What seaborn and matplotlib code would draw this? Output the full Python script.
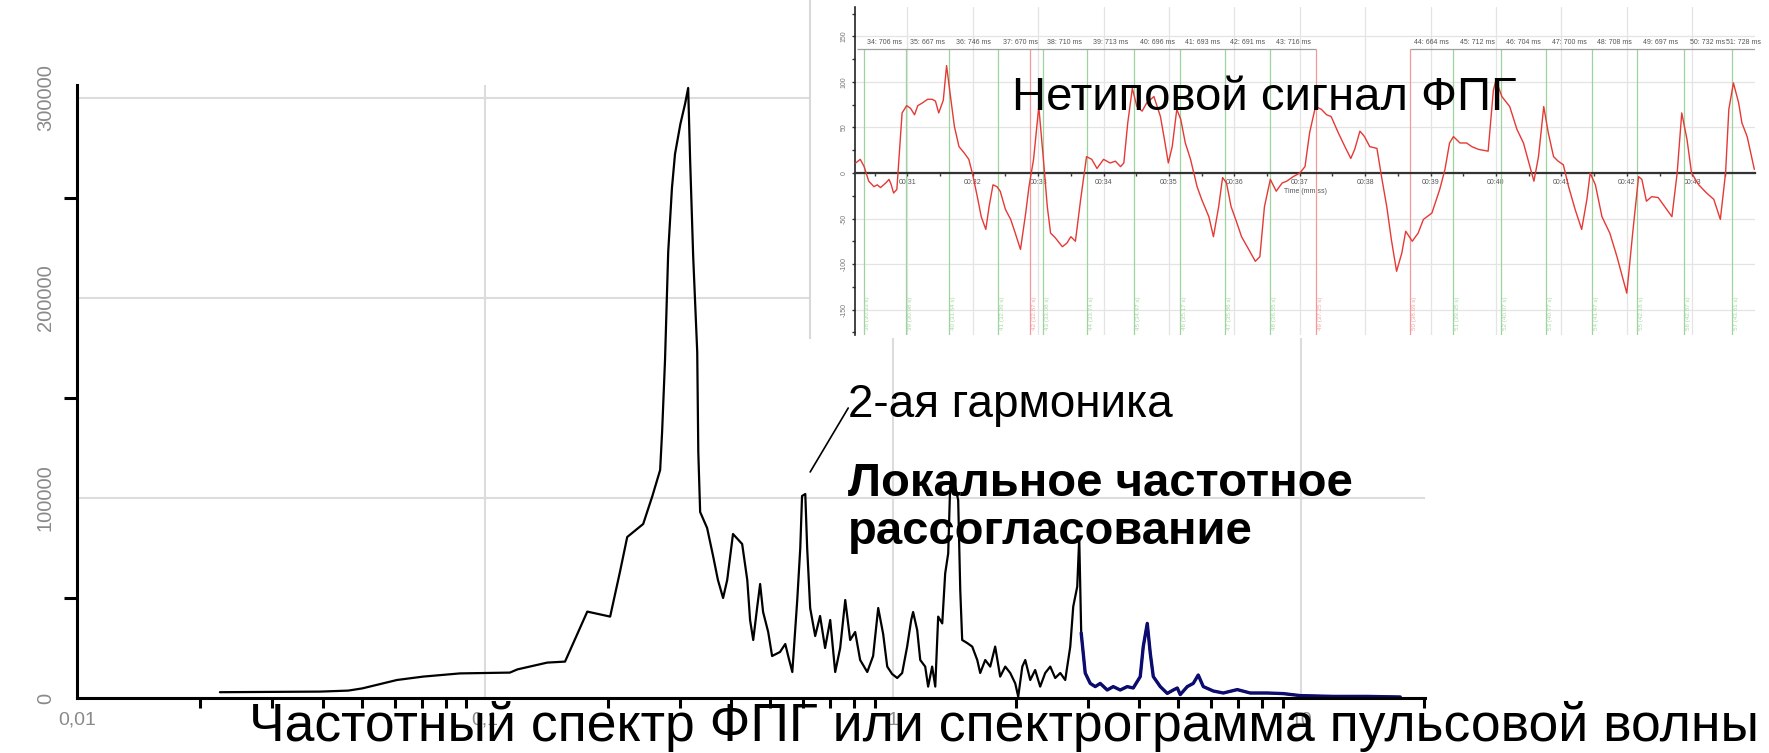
import numpy as np
import pandas as pd
import matplotlib
matplotlib.use('Agg')
import matplotlib.pyplot as plt
import matplotlib.ticker as mticker
import seaborn as sns

# --- spectrum (frequency, amplitude) ---
freq = [0.0224, 0.0394, 0.0462, 0.0500, 0.0608, 0.0705, 0.0868, 0.115, 0.120, 0.142,
        0.157, 0.178, 0.2025, 0.214, 0.223, 0.244, 0.257, 0.2685, 0.2715, 0.276,
        0.281, 0.287, 0.292, 0.301, 0.309, 0.3145, 0.318, 0.3235, 0.331, 0.333,
        0.3365, 0.350, 0.362, 0.372, 0.383, 0.392, 0.405, 0.4265, 0.439, 0.446,
        0.454, 0.464, 0.472, 0.480, 0.494, 0.505, 0.528, 0.544, 0.553, 0.566,
        0.582, 0.592, 0.598, 0.609, 0.6155, 0.626, 0.644, 0.662, 0.681, 0.701,
        0.721, 0.7415, 0.763, 0.7845, 0.807, 0.830, 0.864, 0.893, 0.919, 0.945,
        0.967, 0.994, 1.023, 1.052, 1.082, 1.107, 1.119, 1.145, 1.165, 1.198,
        1.218, 1.246, 1.268, 1.289, 1.319, 1.341, 1.364, 1.379, 1.395, 1.419,
        1.443, 1.460, 1.476, 1.518, 1.562, 1.607, 1.634, 1.681, 1.729, 1.778,
        1.829, 1.882, 1.936, 1.991, 2.025, 2.072, 2.107, 2.167, 2.228, 2.292,
        2.358, 2.426, 2.495, 2.567, 2.640, 2.716, 2.762, 2.825, 2.857, 2.889,
        2.955, 3.040, 3.127, 3.216, 3.346, 3.461, 3.601, 3.746, 3.875, 4.031,
        4.100, 4.194, 4.266, 4.339, 4.513, 4.695, 4.857, 4.968, 5.052, 5.256,
        5.437, 5.592, 5.753, 6.087, 6.439, 6.969, 7.499, 8.254, 9.033, 9.943,
        11.98, 14.51, 17.48]
amp = [2900, 3200, 3700, 4800, 9000, 10700, 12300, 12700, 14300, 17700,
       18200, 43200, 40700, 63000, 80500, 87000, 101000, 114000, 133000, 169000,
       223000, 255000, 272000, 287000, 297000, 305000, 269000, 221000, 173000, 123000,
       93000, 85000, 71000, 59000, 50000, 59000, 82000, 77000, 59000, 39000,
       29000, 45000, 57000, 43000, 33000, 21000, 23000, 27000, 21000, 13000,
       49000, 75000, 101000, 102000, 75000, 45000, 31000, 41000, 25000, 39000,
       13000, 25000, 49000, 29000, 33000, 19000, 13000, 21000, 45000, 32000,
       15700, 12000, 10000, 12500, 25700, 39000, 43000, 34000, 19000, 15700,
       5700, 15700, 5700, 40700, 37300, 62300, 72300, 105700, 112000, 105700,
       99000, 54000, 29000, 27500, 25700, 19000, 12500, 19000, 15700, 25700,
       10700, 15700, 12500, 7300, 700, 15700, 19000, 9000, 14000, 5700,
       12500, 15700, 10000, 12500, 9000, 25700, 45700, 55700, 80000, 32500,
       12500, 7300, 5700, 7300, 4000, 5700, 4000, 5700, 5000, 10700,
       25700, 37300, 22300, 10700, 5700, 2300, 4000, 5000, 1700, 5700,
       7300, 11500, 5700, 3500, 2500, 4200, 2500, 2500, 2200, 1200,
       800, 800, 500]

# --- PPG signal in the inset (time s, amplitude) ---
t_sig = [30.21, 30.28, 30.34, 30.41, 30.49, 30.54, 30.59, 30.67, 30.72, 30.75,
         30.79, 30.84, 30.92, 30.99, 31.05, 31.11, 31.16, 31.23, 31.31, 31.38,
         31.43, 31.48, 31.55, 31.60, 31.66, 31.72, 31.79, 31.87, 31.94, 32.00,
         32.07, 32.13, 32.20, 32.25, 32.31, 32.37, 32.42, 32.50, 32.58, 32.65,
         32.73, 32.81, 32.86, 32.93, 33.01, 33.09, 33.14, 33.19, 33.26, 33.37,
         33.44, 33.50, 33.57, 33.65, 33.74, 33.82, 33.90, 34.00, 34.10, 34.18,
         34.26, 34.31, 34.37, 34.44, 34.51, 34.59, 34.66, 34.77, 34.87, 34.94,
         34.99, 35.05, 35.12, 35.18, 35.25, 35.33, 35.43, 35.50, 35.61, 35.68,
         35.76, 35.82, 35.88, 35.95, 36.03, 36.11, 36.22, 36.32, 36.39, 36.46,
         36.55, 36.64, 36.73, 36.80, 36.90, 37.00, 37.08, 37.15, 37.24, 37.33,
         37.41, 37.48, 37.59, 37.69, 37.78, 37.84, 37.92, 37.99, 38.07, 38.18,
         38.25, 38.33, 38.40, 38.48, 38.56, 38.62, 38.72, 38.81, 38.89, 39.02,
         39.14, 39.22, 39.29, 39.35, 39.45, 39.55, 39.63, 39.73, 39.88, 39.96,
         40.00, 40.09, 40.21, 40.32, 40.42, 40.52, 40.58, 40.65, 40.73, 40.80,
         40.88, 40.95, 41.03, 41.11, 41.21, 41.31, 41.39, 41.44, 41.52, 41.62,
         41.74, 41.85, 42.00, 42.09, 42.18, 42.23, 42.30, 42.38, 42.48, 42.59,
         42.69, 42.77, 42.84, 42.92, 42.99, 43.10, 43.22, 43.33, 43.43, 43.51,
         43.56, 43.63, 43.71, 43.76, 43.84, 43.95]
v_sig = [11, 15, 7, -9, -15, -13, -16, -11, -7, -12,
         -22, -18, 66, 74, 71, 64, 74, 77, 81, 81,
         79, 66, 80, 118, 84, 51, 29, 22, 15, -2,
         -26, -48, -62, -37, -13, -15, -20, -40, -51, -66,
         -84, -44, -15, 15, 73, 7, -37, -66, -71, -81,
         -77, -70, -75, -29, 18, 15, 5, 15, 11, 13,
         7, 11, 55, 93, 73, 68, 77, 84, 62, 33,
         11, 29, 70, 59, 33, 15, -15, -29, -48, -70,
         -37, -5, -11, -37, -53, -70, -84, -97, -92, -37,
         -7, -20, -11, -9, -4, 0, 7, 44, 73, 70,
         64, 62, 44, 29, 16, 26, 46, 40, 29, 27,
         -4, -37, -73, -108, -88, -64, -75, -66, -51, -44,
         -18, 4, 33, 40, 33, 33, 29, 26, 24, 91,
         102, 84, 73, 48, 33, 7, -9, 18, 73, 44,
         18, 13, 9, -15, -40, -62, -29, 0, -13, -48,
         -66, -92, -132, -66, -4, -7, -31, -26, -27, -38,
         -48, 0, 66, 37, 0, -13, -22, -29, -51, 0,
         70, 99, 77, 55, 40, 4]

beat_times = [30.33, 30.98, 31.64, 32.39, 32.87, 33.08, 33.74, 34.47, 35.17, 35.86,
              36.55, 37.25, 38.69, 39.35, 40.07, 40.77, 41.47, 42.16, 42.87, 43.61]
beat_nums = list(range(38, 58))
red_beats = [32.87, 37.25, 38.69]
bar_segments = [(30.23, 37.25), (38.69, 43.96)]
interval_edges = [(30.33, 30.98), (30.98, 31.64), (31.64, 32.39), (32.39, 33.08),
                  (33.08, 33.74), (33.74, 34.47), (34.47, 35.17), (35.17, 35.86),
                  (35.86, 36.55), (36.55, 37.25), (38.69, 39.35), (39.35, 40.07),
                  (40.07, 40.77), (40.77, 41.47), (41.47, 42.16), (42.16, 42.87),
                  (42.87, 43.61), (43.61, 43.96)]
interval_labels = ['34: 706 ms', '35: 667 ms', '36: 746 ms', '37: 670 ms', '38: 710 ms',
                   '39: 713 ms', '40: 696 ms', '41: 693 ms', '42: 691 ms', '43: 716 ms',
                   '44: 664 ms', '45: 712 ms', '46: 704 ms', '47: 700 ms', '48: 708 ms',
                   '49: 697 ms', '50: 732 ms', '51: 728 ms']
sec_ticks = list(range(31, 44))

sns.set_theme(style='white')
plt.rcParams['font.family'] = ['Liberation Sans', 'DejaVu Sans']
plt.rcParams['text.color'] = 'black'

W, H = 1769, 753
fig = plt.figure(figsize=(W / 100, H / 100), dpi=100)

# main spectrum
ax = fig.add_axes([77 / W, 1 - 698 / H, (1425 - 77) / W, (698 - 85) / H])
spec = pd.DataFrame({'f': freq, 'a': amp})
sns.lineplot(data=spec, x='f', y='a', ax=ax, color='black', lw=1.6,
             sort=False, estimator=None)
tail = spec[spec['f'] >= 2.889]
sns.lineplot(data=tail, x='f', y='a', ax=ax, color='#0b0b70', lw=2.4,
             sort=False, estimator=None)
ax.set_xscale('log')
ax.set_xlim(0.01, 20.1)
ax.set_ylim(0, 306500)
ax.set_xlabel('')
ax.set_ylabel('')
for s in ['top', 'right']:
    ax.spines[s].set_visible(False)
for s in ['left', 'bottom']:
    ax.spines[s].set_color('black')
    ax.spines[s].set_linewidth(2.2)

ax.set_xticks([0.01, 0.1, 1, 10])
ax.set_xticklabels(['0,01', '0,1', '1', '10'])
ax.xaxis.set_minor_locator(mticker.LogLocator(base=10, subs=np.arange(2, 10)))
ax.xaxis.set_minor_formatter(mticker.NullFormatter())
ax.set_yticks([0, 100000, 200000, 300000])
ax.set_yticklabels(['0', '100000', '200000', '300000'], rotation=90, va='center')
ax.yaxis.set_minor_locator(mticker.MultipleLocator(50000))
ax.tick_params(axis='x', which='major', direction='out', length=9, width=2.2,
               color='black', labelcolor='#8a8a8a', labelsize=14, pad=1)
ax.tick_params(axis='x', which='minor', direction='out', length=7, width=2.2,
               color='black', bottom=True)
ax.tick_params(axis='y', which='major', direction='out', length=13, width=2.2,
               color='black', labelcolor='#8a8a8a', labelsize=14.5, pad=3)
ax.tick_params(axis='y', which='minor', direction='out', length=9.5, width=2.2,
               color='black', left=True)
ax.grid(True, which='major', color='#dcdcdc', lw=1.5)
ax.grid(False, which='minor')

ax.annotate('', xy=(0.626, 113000), xytext=(0.776, 145000),
            arrowprops=dict(arrowstyle='-', color='black', lw=1.2,
                            shrinkA=0, shrinkB=0))
ax.text(0.776, 140500, '2-ая гармоника', fontsize=33, va='baseline', ha='left',
        color='black')
ax.text(0.776, 101000, 'Локальное частотное', fontsize=34, fontweight='bold',
        va='baseline', ha='left', color='black')
ax.text(0.776, 77000, 'рассогласование', fontsize=34, fontweight='bold',
        va='baseline', ha='left', color='black')

# inset background
bg = fig.add_axes([810 / W, 1 - 338 / H, (W - 810) / W, 338 / H], zorder=1)
bg.set_facecolor('white')
bg.set_xticks([])
bg.set_yticks([])
for s in ['top', 'right', 'bottom']:
    bg.spines[s].set_visible(False)
bg.spines['left'].set_color('#d8d8d8')
bg.spines['left'].set_linewidth(1.5)

# inset signal
ins = fig.add_axes([855 / W, 1 - 335 / H, 900 / W, 328 / H], zorder=2)
ins.set_facecolor('none')
ins.set_xlim(30.2, 43.96)
ins.set_ylim(-178, 182.4)
ins.grid(True, which='major', color='#e4e4e4', lw=0.9)
for t, n in zip(beat_times, beat_nums):
    col = '#f29a9a' if t in red_beats else '#9ed39e'
    tcol = '#f4a6a6' if t in red_beats else '#a9d8a9'
    ins.vlines(t, -178, 136, color=col, lw=0.9, zorder=1)
    ins.text(t + 0.03, -172, f'{n} ({t:.2f} s)', rotation=90, fontsize=4.5,
             color=tcol, ha='left', va='bottom')
for a, b in bar_segments:
    ins.hlines(136, a, b, color='#a0a0a0', lw=0.9)
for (a, b), lab in zip(interval_edges, interval_labels):
    ins.text((a + b) / 2, 139, lab, fontsize=5, color='#555555',
             ha='center', va='bottom')
sns.lineplot(x=t_sig, y=v_sig, ax=ins, color='#e53935', lw=1.0,
             sort=False, estimator=None, zorder=3)
ins.spines['bottom'].set_position(('data', 0))
ins.spines['bottom'].set_color('#333333')
ins.spines['bottom'].set_linewidth(1.6)
ins.spines['left'].set_color('#222222')
ins.spines['left'].set_linewidth(1.2)
for s in ['top', 'right']:
    ins.spines[s].set_visible(False)
ins.set_xticks(sec_ticks)
ins.set_xticklabels([f'00:{s}' for s in sec_ticks])
ins.xaxis.set_minor_locator(mticker.MultipleLocator(0.5))
ins.set_yticks([-150, -100, -50, 0, 50, 100, 150])
ins.set_yticklabels(['-150', '-100', '-50', '0', '50', '100', '150'],
                    rotation=90, va='center')
ins.yaxis.set_minor_locator(mticker.MultipleLocator(25))
ins.tick_params(axis='x', which='both', direction='out', length=2.5, width=1,
                color='#333333', labelsize=5, labelcolor='#555555', pad=2,
                bottom=True)
ins.tick_params(axis='y', which='both', direction='out', length=2.5, width=1,
                color='#333333', labelsize=5, labelcolor='#777777', pad=3,
                left=True)
ins.set_xlabel('Time (mm:ss)', fontsize=5, color='#555555', labelpad=1)
ins.set_ylabel('')

fig.text(1012 / W, 1 - 110 / H, 'Нетиповой сигнал ФПГ', fontsize=34,
         ha='left', va='baseline', color='black', zorder=5)
fig.text(1004 / W, 1 - 741 / H,
         'Частотный спектр ФПГ или спектрограмма пульсовой волны',
         fontsize=38.5, ha='center', va='baseline', color='black', zorder=5)

fig.savefig('out.png', dpi=100, facecolor='white')
